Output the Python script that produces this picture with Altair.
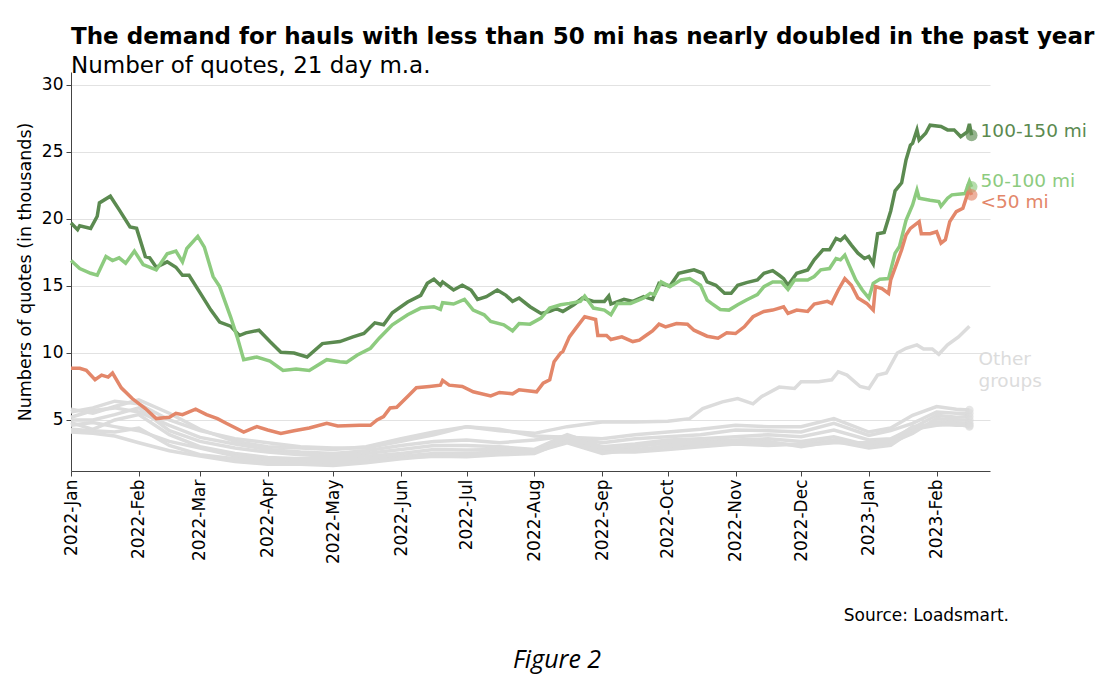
import altair as alt
import pandas as pd

START = pd.Timestamp("2022-01-01")

# ---- main series (day offset from 2022-01-01, thousands of quotes) ----
d100_days = [0, 3, 4, 9, 12, 13, 18, 22, 27, 30, 34, 36, 39, 44, 48, 51, 54, 59, 64, 68, 73, 77, 80, 86, 91, 96,
             102, 108, 115, 123, 129, 134, 139, 143, 147, 154, 160, 163, 166, 169, 170, 175, 179, 183, 186, 190,
             195, 199, 202, 205, 210, 215, 219, 222, 225, 230, 234, 239, 244, 246, 247, 253, 257, 262, 266, 269,
             274, 278, 282, 285, 289, 291, 295, 299, 302, 305, 309, 314, 317, 321, 324, 326, 328, 332, 337, 340,
             344, 347, 350, 352, 354, 357, 360, 363, 365, 367, 369, 372, 375, 377, 380, 382, 384, 385, 387, 388,
             391, 393, 398, 401, 404, 407, 410, 411, 412]
d100_vals = [19.7, 19.2, 19.5, 19.3, 20.2, 21.2, 21.7, 20.7, 19.4, 19.3, 17.2, 17.1, 16.4, 16.8, 16.4, 15.8, 15.8,
             14.5, 13.2, 12.3, 12.0, 11.3, 11.5, 11.7, 10.85, 10.05, 10.0, 9.7, 10.7, 10.85, 11.2, 11.45, 12.25,
             12.1, 13.0, 13.8, 14.3, 15.2, 15.5, 15.05, 15.3, 14.7, 15.05, 14.7, 14.0, 14.2, 14.7, 14.3, 13.85,
             14.1, 13.45, 12.95, 13.1, 13.3, 13.1, 13.6, 14.1, 13.85, 13.85, 14.25, 13.65, 14.0, 13.85, 14.2, 14.0,
             15.2, 15.0, 15.95, 16.1, 16.2, 15.95, 15.3, 15.05, 14.45, 14.45, 15.05, 15.25, 15.45, 15.95, 16.15,
             15.8, 15.55, 15.05, 15.95, 16.2, 16.95, 17.7, 17.7, 18.55, 18.4, 18.7, 18.05, 17.45, 17.05, 17.2,
             16.65, 18.9, 19.0, 20.6, 22.1, 22.7, 24.4, 25.5, 25.65, 26.65, 25.9, 26.4, 27.0, 26.9, 26.65, 26.65,
             26.15, 26.5, 27.1, 26.25]

d50_days = [0, 4, 9, 12, 16, 19, 22, 25, 29, 33, 39, 44, 48, 51, 53, 58, 61, 65, 68, 73, 76, 79, 85, 91, 97, 103,
            109, 117, 123, 126, 131, 137, 141, 147, 154, 160, 166, 169, 170, 175, 180, 184, 189, 192, 198, 202,
            205, 210, 215, 219, 224, 228, 233, 235, 239, 244, 247, 250, 256, 262, 265, 267, 270, 274, 279, 283,
            288, 291, 293, 297, 301, 305, 309, 314, 317, 321, 325, 328, 331, 337, 340, 343, 347, 350, 352, 354,
            356, 359, 362, 365, 367, 370, 374, 377, 379, 382, 385, 387, 388, 393, 397, 398, 401, 403, 409, 411, 412]
d50_vals = [16.9, 16.3, 15.95, 15.8, 17.2, 16.9, 17.1, 16.7, 17.6, 16.6, 16.2, 17.4, 17.6, 16.8, 17.8, 18.7, 17.9,
            15.7, 14.95, 12.7, 11.2, 9.5, 9.7, 9.4, 8.7, 8.8, 8.7, 9.5, 9.35, 9.3, 9.85, 10.35, 11.1, 12.1, 12.85,
            13.35, 13.45, 13.25, 13.75, 13.65, 14.0, 13.2, 12.85, 12.35, 12.1, 11.65, 12.2, 12.15, 12.6, 13.35,
            13.6, 13.7, 13.85, 14.25, 13.35, 13.2, 12.85, 13.7, 13.7, 14.1, 14.45, 14.35, 15.3, 14.95, 15.45,
            15.55, 15.05, 13.95, 13.7, 13.25, 13.2, 13.6, 13.95, 14.35, 14.95, 15.3, 15.3, 14.75, 15.45, 15.45,
            15.7, 16.2, 16.3, 17.05, 16.95, 17.3, 16.55, 15.45, 14.7, 14.1, 15.2, 15.5, 15.55, 17.45, 17.95, 19.9,
            21.05, 22.15, 21.55, 21.4, 21.3, 20.95, 21.55, 21.8, 21.9, 22.8, 22.4]

dlt50_days = [0, 4, 7, 11, 14, 17, 19, 23, 28, 34, 39, 45, 48, 51, 57, 62, 67, 71, 79, 85, 90, 96, 102, 109, 117,
              122, 132, 137, 140, 143, 146, 149, 154, 158, 164, 169, 170, 173, 179, 184, 192, 196, 202, 205, 213,
              216, 219, 221, 224, 225, 228, 231, 235, 240, 241, 245, 247, 252, 257, 260, 263, 266, 269, 272, 277,
              282, 285, 291, 296, 300, 304, 308, 312, 317, 321, 326, 328, 332, 337, 340, 346, 348, 351, 354, 357,
              360, 364, 367, 368, 371, 374, 375, 378, 380, 382, 384, 388, 389, 393, 396, 398, 400, 402, 405, 408,
              410, 411, 412]
dlt50_vals = [8.85, 8.85, 8.7, 8.0, 8.35, 8.2, 8.5, 7.4, 6.6, 5.85, 5.1, 5.2, 5.5, 5.4, 5.8, 5.4, 5.1, 4.75, 4.1,
              4.5, 4.25, 4.0, 4.2, 4.4, 4.75, 4.55, 4.6, 4.6, 5.0, 5.25, 5.9, 5.95, 6.75, 7.4, 7.5, 7.6, 7.95, 7.6,
              7.5, 7.1, 6.8, 7.05, 6.95, 7.25, 7.1, 7.75, 8.0, 9.35, 10.0, 10.1, 11.2, 11.85, 12.7, 12.5, 11.3,
              11.3, 11.0, 11.2, 10.85, 10.95, 11.3, 11.65, 12.15, 11.95, 12.2, 12.15, 11.7, 11.25, 11.1, 11.5,
              11.45, 11.95, 12.7, 13.1, 13.2, 13.45, 12.95, 13.2, 13.1, 13.65, 13.85, 13.7, 14.7, 15.55, 15.05,
              14.1, 13.7, 13.2, 14.95, 14.8, 14.45, 15.45, 16.8, 17.7, 18.8, 19.3, 19.8, 18.9, 18.9, 19.05, 18.2,
              18.45, 19.8, 20.55, 20.8, 21.8, 22.2, 21.8]

# ---- other groups ----
g1_days = [0, 10, 20, 31, 45, 59, 75, 90, 105, 120, 135, 151, 166, 181, 196, 212, 227, 243, 258, 273, 283, 289,
           298, 305, 312, 316, 324, 331, 334, 342, 348, 351, 355, 361, 365, 369, 373, 378, 382, 387, 390, 394,
           397, 401, 406, 411]
g1_vals = [5.8, 5.5, 6.0, 6.5, 5.5, 4.3, 3.4, 3.0, 2.9, 2.8, 3.0, 3.6, 4.1, 4.5, 4.2, 4.0, 4.5, 4.85, 4.85, 4.9,
           5.1, 5.85, 6.35, 6.6, 6.2, 6.75, 7.45, 7.35, 7.85, 7.85, 8.0, 8.6, 8.35, 7.5, 7.35, 8.35, 8.5, 10.0,
           10.35, 10.6, 10.3, 10.3, 9.9, 10.6, 11.2, 12.0]

other_days = [0, 10, 20, 31, 45, 59, 75, 90, 105, 120, 135, 151, 166, 181, 196, 212, 227, 243, 258, 273, 288, 304,
              319, 334, 349, 365, 375, 385, 396, 405, 411]
g2_vals = [5.6, 5.9, 6.4, 6.2, 5.0, 4.2, 3.6, 3.3, 3.0, 2.9, 2.9, 3.4, 3.9, 4.5, 4.3, 3.8, 3.7, 3.6, 3.9, 4.1, 4.3,
           4.6, 4.5, 4.5, 5.1, 4.1, 4.4, 5.35, 6.0, 5.8, 5.75]
g3_vals = [5.2, 5.7, 5.9, 5.6, 4.6, 3.7, 3.2, 2.8, 2.6, 2.5, 2.7, 3.1, 3.4, 3.5, 3.3, 3.5, 3.8, 3.3, 3.6, 3.75, 3.9,
           4.25, 4.2, 4.1, 4.75, 3.85, 4.2, 4.75, 5.6, 5.5, 5.5]
g4_vals = [5.0, 5.0, 5.4, 5.9, 4.2, 3.4, 2.9, 2.6, 2.4, 2.3, 2.5, 2.8, 3.1, 3.1, 3.0, 2.8, 3.9, 3.0, 3.2, 3.5, 3.6,
           3.75, 3.9, 3.75, 4.25, 3.5, 3.6, 4.4, 5.35, 5.2, 5.25]
g5_vals = [4.8, 4.3, 5.0, 5.4, 3.9, 3.0, 2.5, 2.2, 2.1, 2.1, 2.3, 2.5, 2.8, 2.75, 2.8, 2.75, 3.6, 2.75, 3.0, 3.3,
           3.4, 3.5, 3.6, 3.4, 3.75, 3.1, 3.3, 4.0, 5.1, 5.0, 5.0]
g6_vals = [4.6, 4.8, 4.5, 4.2, 3.4, 2.9, 2.3, 2.0, 1.9, 1.9, 2.1, 2.3, 2.5, 2.5, 2.6, 2.6, 3.3, 2.5, 2.8, 3.0, 3.2,
           3.3, 3.4, 3.0, 3.4, 2.9, 3.1, 4.2, 4.85, 4.8, 4.75]
g7_vals = [4.3, 4.2, 4.1, 4.4, 3.1, 2.4, 2.1, 1.8, 1.7, 1.7, 1.9, 2.2, 2.3, 2.25, 2.4, 2.5, 3.5, 2.6, 2.6, 2.8, 3.0,
           3.2, 3.1, 3.2, 3.5, 3.0, 3.2, 4.3, 4.6, 4.7, 4.5]
g8_vals = [4.1, 4.0, 3.8, 3.3, 2.7, 2.3, 1.9, 1.7, 1.7, 1.6, 1.8, 2.1, 2.3, 2.4, 2.5, 2.6, 3.7, 2.9, 2.7, 3.1, 3.3,
           3.4, 3.3, 3.1, 3.3, 3.3, 3.4, 4.5, 4.7, 4.6, 4.6]

series_names = ["100-150 mi", "50-100 mi", "<50 mi"]
series_colors = ["#5b8a50", "#8dcb7f", "#e3876a"]
gray_color = "#dcdcdc"
other_label = "Other\ngroups"

title_text = "The demand for hauls with less than 50 mi has nearly doubled in the past year"
subtitle_text = "Number of quotes, 21 day m.a."
y_title = "Numbers of quotes (in thousands)"
source_note = "Source: Loadsmart."
figure_caption = "Figure 2"
month_ticks = [(2022, m) for m in range(1, 13)] + [(2023, 1), (2023, 2)]


def frame(name, days, vals):
    return pd.DataFrame({
        "date": START + pd.to_timedelta(days, unit="D"),
        "value": vals,
        "series": name,
    })


main_frames = [frame(series_names[0], d100_days, d100_vals),
               frame(series_names[1], d50_days, d50_vals),
               frame(series_names[2], dlt50_days, dlt50_vals)]
gray_frames = [frame("g1", g1_days, g1_vals)] + [
    frame(f"g{i + 2}", other_days, v)
    for i, v in enumerate([g2_vals, g3_vals, g4_vals, g5_vals, g6_vals, g7_vals, g8_vals])
]
gray_df = pd.concat(gray_frames, ignore_index=True)
gray_end = pd.concat([f.tail(1) for f in gray_frames[1:]], ignore_index=True)
gray_top_end = gray_frames[0].tail(1).assign(label=other_label)

FONT = "DejaVu Sans"

x_enc = alt.X(
    "date:T",
    scale=alt.Scale(domain=[alt.DateTime(year=2022, month=1, date=1),
                            alt.DateTime(year=2023, month=2, date=25, hours=10)]),
    axis=alt.Axis(
        title=None,
        values=[alt.DateTime(year=y, month=m, date=1) for y, m in month_ticks],
        format="%Y-%b",
        labelAngle=-90,
        grid=False,
        labelFontSize=17,
        labelPadding=3,
        tickSize=5,
    ),
)
y_enc = alt.Y(
    "value:Q",
    scale=alt.Scale(domain=[1.19, 30.97], nice=False, zero=False),
    axis=alt.Axis(
        title=y_title,
        values=[5, 10, 15, 20, 25, 30],
        format="d",
        grid=True,
        gridColor="#e2e2e2",
        labelFontSize=17,
        tickSize=5,
        labelPadding=3,
        titleFontSize=17.5,
        titleFontWeight="normal",
        titlePadding=7,
    ),
)

LW = 3.5
layers = []
layers.append(
    alt.Chart(gray_df).mark_line(strokeWidth=LW, color=gray_color).encode(x=x_enc, y=y_enc, detail="series:N")
)
layers.append(
    alt.Chart(gray_end).mark_circle(size=70, color=gray_color, opacity=0.7).encode(x=x_enc, y=y_enc)
)

label_dy = [-4, -6, 7]
for f, name, col, dy in zip(main_frames, series_names, series_colors, label_dy):
    layers.append(alt.Chart(f).mark_line(strokeWidth=LW, color=col).encode(x=x_enc, y=y_enc))
for f, name, col, dy in zip(main_frames, series_names, series_colors, label_dy):
    end = f.tail(1)
    layers.append(alt.Chart(end).mark_circle(size=140, color=col, opacity=0.65).encode(x=x_enc, y=y_enc))
    layers.append(
        alt.Chart(end).mark_text(align="left", baseline="middle", dx=9, dy=dy, fontSize=18.5, font=FONT, color=col)
        .encode(x=x_enc, y=y_enc, text="series:N")
    )

layers.append(
    alt.Chart(gray_top_end).mark_text(align="left", baseline="middle", dx=9, dy=33, fontSize=18.5, font=FONT,
                                      color=gray_color, lineBreak="\n", lineHeight=22)
    .encode(x=x_enc, y=y_enc, text="label:N")
)

layers.append(
    alt.Chart(pd.DataFrame({"t": [source_note]})).mark_text(
        align="right", baseline="middle", fontSize=17, font=FONT, color="black")
    .encode(text="t:N", x=alt.value(938), y=alt.value(544))
)
layers.append(
    alt.Chart(pd.DataFrame({"t": [figure_caption]})).mark_text(
        align="center", baseline="middle", fontSize=25, font="Open Sans", fontStyle="italic", color="black")
    .encode(text="t:N", x=alt.value(486), y=alt.value(588))
)

chart = alt.layer(*layers).properties(
    width=919,
    height=399,
    padding={"left": 63, "top": 64, "right": 116, "bottom": 205},
    autosize=alt.AutoSizeParams(type="none"),
    title=alt.TitleParams(
        text=title_text,
        subtitle=subtitle_text,
        anchor="start",
        frame="group",
        font=FONT,
        fontSize=23,
        fontWeight="bold",
        color="black",
        subtitleFont=FONT,
        subtitleFontSize=23,
        subtitleColor="black",
        subtitlePadding=6,
        offset=-6,
    ),
).configure_view(stroke=None).configure_axis(
    labelFont=FONT,
    titleFont=FONT,
    labelColor="black",
    titleColor="black",
    domainColor="#444444",
    tickColor="#444444",
)

chart.save("out.html", embed_options={"renderer": "svg", "actions": False})
